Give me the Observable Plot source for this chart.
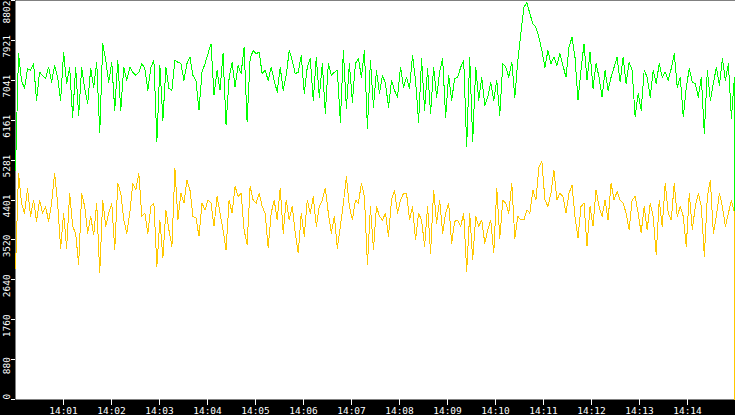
<!DOCTYPE html>
<html><head><meta charset="utf-8">
<script src="https://cdn.jsdelivr.net/npm/d3@7"></script>
<script src="https://cdn.jsdelivr.net/npm/@observablehq/plot@0.6"></script>
<style>html,body{margin:0;padding:0;background:#fff;overflow:hidden}</style>
</head><body><div id="chart"></div>
<script>
const green = [
5060,7630,7040,6860,7300,7260,7410,6600,7220,7150,7080,7330,7000,7370,7110,6600,7660,6970,7330,6230,7330,6270,7330,6860,6530,7300,6890,7440,5880,7850,7480,7000,7440,6380,7480,6380,7330,7040,7330,7220,
7150,7220,7410,7300,6820,7330,7480,5690,7370,6160,7330,6860,6820,7480,7440,7410,7040,7410,7550,7150,7040,6380,7220,7410,7630,7850,6710,7260,6820,7630,6050,7080,7440,6890,7370,7190,7770,6120,7520,7700,
7630,7660,7190,7260,7040,7330,7040,6780,7330,6820,7150,7700,7480,7190,7220,7590,6750,7330,7520,6600,7550,6670,7410,6310,7410,7150,7220,7260,6120,7700,6420,7410,6560,7410,7520,7110,7700,5980,7480,6450,
7260,6750,7150,6970,6450,7040,6820,6670,7330,6890,7110,6860,7590,7040,6120,7520,6380,7300,6310,7330,6670,7220,7520,6230,7150,6600,7080,7110,7330,7480,5580,7550,5690,7330,6600,7110,6490,6670,7000,6600,
7040,6270,7410,7330,7110,7440,6670,7480,8070,8650,8760,8510,8290,8210,7990,7700,7330,7700,7410,7550,7370,7630,7370,7110,7770,7990,7550,6600,7260,7850,7040,7660,6860,7410,7110,6670,7260,6820,7110,7330,
7550,7000,7550,6970,7440,7260,6230,6750,6380,7260,7110,6670,7260,6970,7410,7110,7220,7040,7300,7630,6890,7110,6230,6890,7300,7000,6970,6670,7110,5870,7260,6600,6970,7330,6930,7520,7040,7410,6200,7110];
const yellow = [
2880,4990,4330,4110,4660,4040,4400,3930,4400,4110,4260,3930,4330,4990,4330,3340,4110,3340,4550,3820,3670,2970,4550,4260,3670,4040,3630,4330,2790,4400,3820,4110,4330,3300,4770,4550,3960,3670,4110,4770,
4620,4990,4040,4110,3670,4260,4330,2940,3960,3120,4180,3740,3380,5100,3960,4550,4330,4840,4620,4040,4000,3600,4330,4180,4400,4330,3820,4480,4110,3740,3300,4400,4110,4700,4480,4550,3740,3410,4700,4400,
4330,4550,4260,4110,3340,4110,4400,3960,4660,3670,4400,3960,4260,3670,3230,4110,3600,4400,4110,4480,3820,4260,4400,4660,4110,3670,4040,3340,3820,4330,4920,4260,3960,4400,4330,4770,4480,2970,4260,3300,
4260,4040,3960,4110,3600,4400,4620,4110,4400,4550,4550,3960,4260,3520,4110,3960,3380,4260,3230,4620,3890,4400,3670,4110,4330,3450,3930,3960,3820,4110,2830,4110,3080,4040,3820,3960,3450,3740,3960,3230,
4660,3560,4400,4330,4110,4770,3560,4040,3960,3960,4180,4110,4620,4400,5130,5250,4400,4260,4550,5060,4400,4550,4480,4110,4550,4730,4040,3560,4260,4330,3380,4260,3820,4620,4260,4040,4400,3960,4770,4400,
4590,4400,4330,4110,3740,4400,4480,4110,3670,4260,3740,4330,4040,3190,4400,3820,4770,4110,3960,4770,4040,4260,4040,3380,4550,3740,4260,4550,4260,3160,4480,4840,3670,4040,4550,4260,3820,4110,4400,4110];
const finalValue = 0;           // both series drop to zero at the end of the window
const sampleSeconds = 3.76;     // sampling period of the readings
const yTicks = [0,880,1760,2640,3520,4401,5281,6161,7041,7921,8802];
const xTickLabels = ["14:01","14:02","14:03","14:04","14:05","14:06","14:07","14:08","14:09","14:10","14:11","14:12","14:13","14:14"];
const startLabel = "14:00", endLabel = "14:15";

const toDate = l => { const [h, m] = l.split(":").map(Number); return new Date(Date.UTC(2024, 0, 1, h, m, 0)); };
const t0 = toDate(startLabel), t1 = toDate(endLabel);
const rows = arr => arr.map((v, i) => ({t: new Date(+t0 + i * sampleSeconds * 1000), v}));
const gRows = rows(green), yRows = rows(yellow);
const gDrop = [gRows[gRows.length - 1], {t: t1, v: finalValue}];
const yDrop = [yRows[yRows.length - 1], {t: t1, v: finalValue}];
const xTicks = xTickLabels.map(toDate);
const midTicks = yTicks.slice(1, -1);

const chart = Plot.plot({
  width: 735, height: 415,
  marginLeft: 15, marginRight: 0, marginTop: 0, marginBottom: 16,
  style: {background: "#000", fontFamily: "DejaVu Sans Mono", fontSize: "9.5px", color: "#fff"},
  x: {type: "utc", domain: [t0, t1]},
  y: {domain: [0, 8802]},
  marks: [
    Plot.frame({fill: "#fff", stroke: null}),
    Plot.axisX({ticks: xTicks, tickSize: 6, tickPadding: 2, tickFormat: d3.utcFormat("%H:%M"), stroke: "#fff", fill: "#fff", label: null, shapeRendering: "crispEdges"}),
    Plot.axisY({ticks: yTicks, tickSize: 4, stroke: "#fff", fill: "none", label: null, shapeRendering: "crispEdges"}),
    Plot.text(midTicks, {y: d => d, text: d => String(d), frameAnchor: "left", dx: -6, dy: 6, rotate: -90, textAnchor: "middle", lineAnchor: "bottom", fill: "#fff"}),
    Plot.text(yTicks.slice(0, 1), {y: d => d, text: d => String(d), frameAnchor: "left", dx: -6, dy: 0, rotate: -90, textAnchor: "start", lineAnchor: "bottom", fill: "#fff"}),
    Plot.text(yTicks.slice(-1), {y: d => d, text: d => String(d), frameAnchor: "left", dx: -6, dy: 0, rotate: -90, textAnchor: "end", lineAnchor: "bottom", fill: "#fff"}),
    Plot.line(gRows, {x: "t", y: "v", stroke: "#00ff00", strokeWidth: 1, curve: "linear", shapeRendering: "crispEdges"}),
    Plot.line(gDrop, {x: "t", y: "v", stroke: "#00ff00", strokeWidth: 1, curve: "step-before", shapeRendering: "crispEdges"}),
    Plot.line(yRows, {x: "t", y: "v", stroke: "#ffc800", strokeWidth: 1, curve: "linear", shapeRendering: "crispEdges"}),
    Plot.line(yDrop, {x: "t", y: "v", stroke: "#ffc800", strokeWidth: 1, curve: "step-before", shapeRendering: "crispEdges"})
  ]
});
document.getElementById("chart").appendChild(chart);
</script>
</body></html>
